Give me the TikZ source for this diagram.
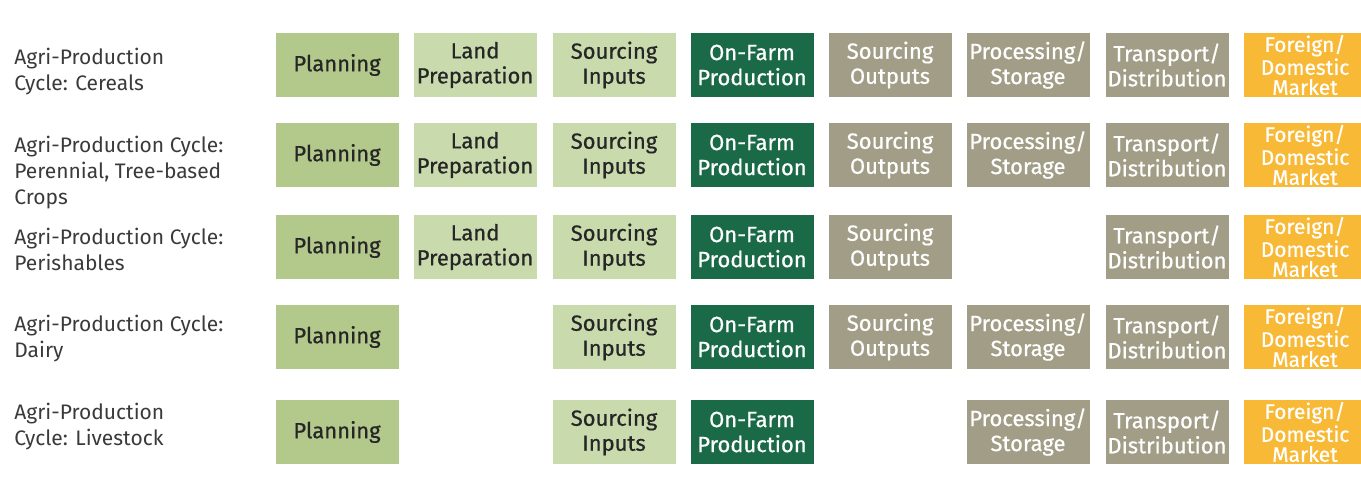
\documentclass[tikz,border=0pt]{standalone}
\usepackage{fontspec}
\setmainfont{Fira Sans}
\newfontfamily\stagefont[FakeBold=0.6]{Fira Sans}
\usetikzlibrary{positioning}

\definecolor{plangreen}{HTML}{B3C98C}
\definecolor{palegreen}{HTML}{C9DAAD}
\definecolor{farmgreen}{HTML}{1A6A48}
\definecolor{olivegrey}{HTML}{A19D87}
\definecolor{marketgold}{HTML}{F8B937}
\definecolor{labelgrey}{HTML}{3A3A3A}

\begin{document}
\begin{tikzpicture}[
x=0.5pt,y=-0.5pt,
stage/.style={
	minimum width=61.5pt,
	minimum height=32pt,
	inner sep=0pt,
	align=center,
	font=\stagefont\fontsize{11}{12.5}\selectfont
},
plan/.style={stage,fill=plangreen,text=black!85},
pale/.style={stage,fill=palegreen,text=black!85},
farm/.style={stage,fill=farmgreen,text=white},
outs/.style={stage,fill=olivegrey,text=white},
market/.style={stage,fill=marketgold,text=white,
	font=\stagefont\fontsize{10.5}{10}\selectfont},
cycle/.style={
	anchor=west,
	align=left,
	inner sep=0pt,
	text=labelgrey,
	font=\fontsize{10.5}{13}\selectfont
}
]
\useasboundingbox (0,0) rectangle (1361,478);

% row labels
\foreach \r/\y/\l in {1/72/{Agri-Production\\Cycle: Cereals},
	2/173/{Agri-Production Cycle:\\Perennial, Tree-based\\Crops},
	3/249/{Agri-Production Cycle:\\Perishables},
	4/339/{Agri-Production Cycle:\\Dairy},
	5/427/{Agri-Production\\Cycle: Livestock}}
\node[cycle] (l\r) at (14,\y) {\l};

% stages: column/x/style/text/rows that have it
\foreach \c/\x/\s/\t/\rows in {1/337/plan/Planning/{1,2,3,4,5},
	2/475/pale/{Land\\Preparation}/{1,2,3},
	3/614/pale/{Sourcing\\Inputs}/{1,2,3,4,5},
	4/752/farm/{On-Farm\\Production}/{1,2,3,4,5},
	5/890/outs/{Sourcing\\Outputs}/{1,2,3,4},
	6/1028/outs/{Processing/\\Storage}/{1,2,4,5},
	7/1167/outs/{Transport/\\Distribution}/{1,2,3,4,5},
	8/1305/market/{Foreign/\\Domestic\\Market}/{1,2,3,4,5}}
\foreach \r in \rows {
	\pgfmathsetmacro{\y}{{65,155,247,337,432}[\r-1]}
	\node[\s] (s\r\c) at (\x,\y) {\t};
}
\end{tikzpicture}
\end{document}
